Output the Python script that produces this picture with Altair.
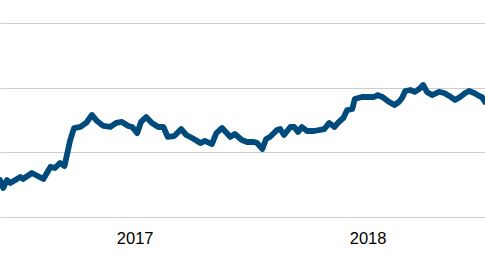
import altair as alt
import pandas as pd

# Days offset from 2017-01-01 and series values
day_offsets = [-211, -206, -200, -195, -179, -175, -161, -143, -132, -125, -117, -110,
               -101, -95, -85, -76, -67, -59, -49, -38, -29, -20, -10, -4,
               4, 10, 18, 27, 37, 45, 52, 62, 73, 81, 90, 98,
               103, 110, 121, 128, 137, 150, 157, 168, 176, 187, 192, 200,
               206, 212, 223, 228, 234, 244, 250, 256, 262, 270, 281, 297,
               305, 313, 320, 327, 333, 341, 345, 356, 364, 375, 381, 388,
               399, 407, 414, 419, 424, 432, 439, 446, 452, 458, 466, 477,
               485, 493, 502, 510, 518, 524, 532, 540, 544, 549]
values = [28.6, 22.4, 28.6, 26.3, 30.9, 29.4, 34.0, 29.4, 38.7, 37.9, 41.8, 39.4,
          59.5, 68.8, 69.6, 72.7, 78.9, 74.2, 70.4, 69.6, 72.7, 73.5, 70.4, 69.6,
          64.9, 73.5, 77.3, 72.7, 69.6, 69.6, 61.9, 62.6, 68.0, 63.4, 61.1, 58.8,
          57.2, 58.8, 56.4, 64.9, 68.8, 61.9, 64.2, 59.5, 58.0, 58.0, 57.2, 52.6,
          60.3, 61.9, 67.3, 68.0, 63.4, 69.6, 69.6, 65.7, 69.6, 66.5, 66.5, 68.0,
          72.7, 69.6, 73.5, 76.5, 82.7, 83.5, 91.2, 92.8, 92.8, 92.8, 94.3, 92.8,
          88.9, 86.6, 88.9, 92.0, 97.4, 98.2, 96.7, 99.0, 102.1, 96.7, 94.3, 96.7,
          95.9, 93.6, 90.5, 92.8, 95.9, 97.4, 95.9, 93.6, 92.8, 88.9]
x_domain = ["2016-06-04", "2018-07-04"]
y_grid = [0, 50, 100, 150]

dates = pd.Timestamp("2017-01-01") + pd.to_timedelta(day_offsets, unit="D")
df = pd.DataFrame({"date": dates.strftime("%Y-%m-%d"), "value": values})

chart = alt.Chart(df).mark_line(
    color="#004b7c", strokeWidth=5.8, strokeJoin="round", strokeCap="round"
).encode(
    x=alt.X("date:T", scale=alt.Scale(domain=x_domain),
            axis=alt.Axis(title=None, format="%Y", tickCount="year", grid=False,
                          domain=False, ticks=False, labelPadding=13,
                          labelFont="Liberation Sans", labelFontSize=16.5,
                          labelColor="#000000")),
    y=alt.Y("value:Q", scale=alt.Scale(domain=[0, 150]),
            axis=alt.Axis(title=None, values=y_grid, labels=False, ticks=False,
                          domain=False, grid=True, gridColor="#cccccc",
                          gridWidth=1)),
).properties(
    width=485, height=194,
    autosize=alt.AutoSizeParams(type="none"),
    padding={"left": 0, "right": 0, "top": 23, "bottom": 45},
).configure_view(stroke=None)

chart.save("out.html", embed_options={"renderer": "svg", "actions": False})
